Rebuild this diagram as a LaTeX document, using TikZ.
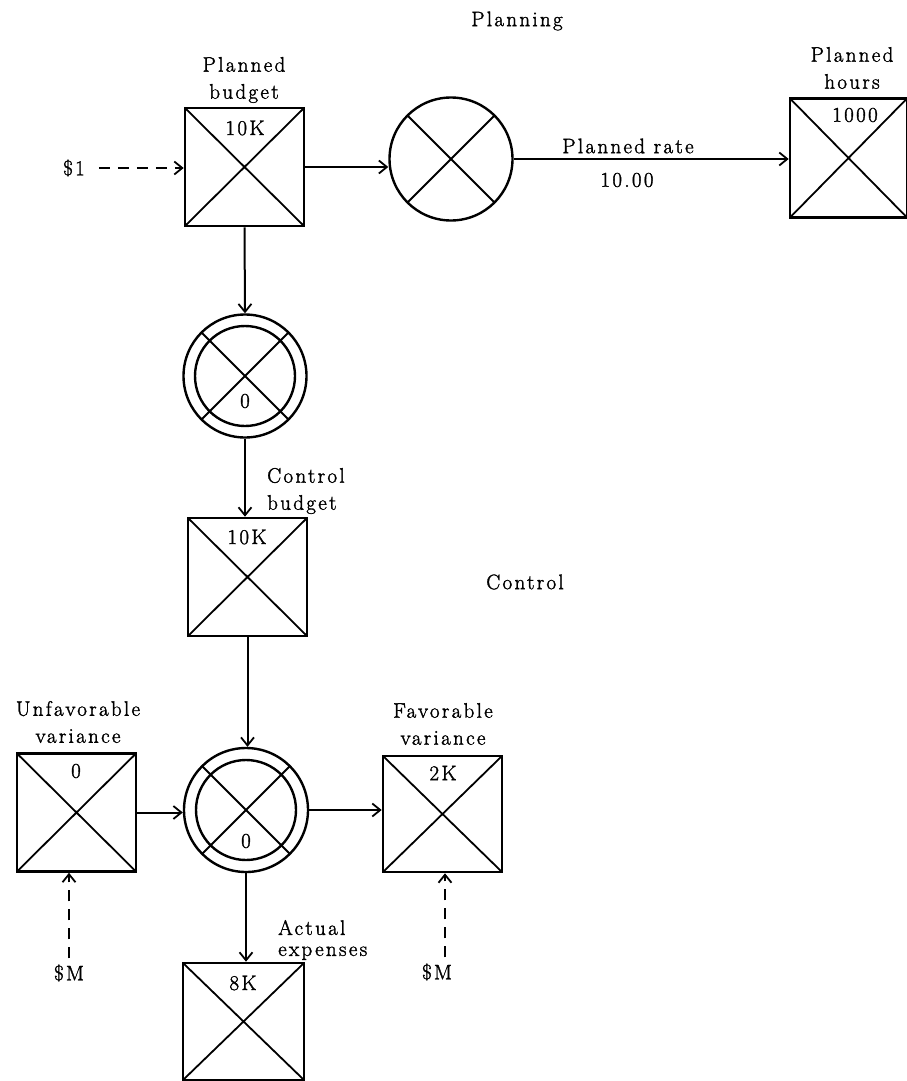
\documentclass[tikz,border=0pt]{standalone}
\usepackage{fontspec}
\setmainfont[LetterSpace=11,FakeBold=1.6]{Latin Modern Roman}
\usetikzlibrary{arrows.meta,calc}
\tikzset{
  xlines/.style={path picture={\draw[line width=1.8pt] (path picture bounding box.north west) -- (path picture bounding box.south east) (path picture bounding box.north east) -- (path picture bounding box.south west);}},
  xbox/.style={draw, line width=2.6pt, minimum width=119pt, minimum height=118pt, inner sep=0pt, xlines},
  xcirc/.style={draw, circle, line width=2.4pt, minimum size=123pt, inner sep=0pt, xlines},
  dcirc/.style={draw, circle, line width=2.4pt, minimum size=123pt, inner sep=0pt,
    path picture={\draw[line width=1.8pt] (path picture bounding box.north west) -- (path picture bounding box.south east) (path picture bounding box.north east) -- (path picture bounding box.south west);
    \draw[line width=2.4pt] (path picture bounding box.center) circle (50pt);}},
  tip/.style={-{Straight Barb[length=8pt,width=13pt,line width=1.8pt]}},
  arr/.style={line width=2pt, tip},
  darr/.style={line width=2pt, tip, dash pattern=on 11pt off 8pt},
  lbl/.style={font=\fontsize{21}{27}\selectfont, align=center, inner sep=0pt},
  val/.style={font=\fontsize{21}{23}\selectfont, inner sep=0pt},
}
\begin{document}
\begin{tikzpicture}[x=1pt,y=-1pt]
\useasboundingbox[fill=white] (0,0) rectangle (907,1081);

% shapes
\node[xbox] (pb) at (244.5,167) {};
\node[xcirc] (c1) at (451,159) {};
\node[xbox, minimum width=117pt, minimum height=119pt] (ph) at (848.5,158) {};
\node[dcirc] (c2) at (245,376) {};
\node[xbox] (cb) at (247.5,577) {};
\node[dcirc, minimum size=124pt] (c3) at (246,810) {};
\node[xbox] (uv) at (76.5,812.5) {};
\node[xbox, minimum height=116pt] (fv) at (442.5,814) {};
\node[xbox, minimum width=121pt, minimum height=117pt] (ae) at (243.5,1021.5) {};

% values
\node[val] (vpb) at (245,128) {10K};
\node[val] (vph) at (855,115) {1000};
\node[val] (vc2) at (245,401) {0};
\node[val] (vcb) at (247,537) {10K};
\node[val] (vuv) at (76,771) {0};
\node[val] (vfv) at (443,773) {2K};
\node[val] (vc3) at (246,841) {0};
\node[val] (vae) at (243,983) {8K};

% labels
\node[lbl] (planning) at (517,21) {Planning};
\node[lbl] (lpb) at (244,80) {Planned\\budget};
\node[lbl] (lph) at (852,68) {Planned\\hours};
\node[lbl] (rate) at (628,146) {Planned rate};
\node[lbl] (rateval) at (627,180) {10.00};
\node[lbl, anchor=west, align=left] (lcb) at (267,491) {Control\\budget};
\node[lbl] (control) at (525,582) {Control};
\node[lbl] (luv) at (78,722) {Unfavorable\\variance};
\node[lbl] (lfv) at (443,724) {Favorable\\variance};
\node[lbl, anchor=west, align=left, font=\fontsize{21}{21}\selectfont] (lae) at (278,940) {Actual\\expenses};
\node[lbl] (d1) at (74,168) {\$1};
\node[lbl] (m1) at (69,973) {\$M};
\node[lbl] (m2) at (437,972) {\$M};

% connectors
\draw[darr, shorten <=14pt] (d1.east) -- (d1.east -| pb.west);
\draw[arr] (pb.east) -- (pb.east -| c1.west);
\draw[arr] (c1.east) -- (c1.east -| ph.west);
\draw[arr] (pb.south) -- (c2.north);
\draw[arr] (c2.south) -- (c2.south |- cb.north);
\draw[arr] (cb.south) -- (cb.south |- c3.north);
\draw[arr] (uv.east) -- (uv.east -| c3.west);
\draw[arr] (c3.east) -- (c3.east -| fv.west);
\draw[arr] (c3.south) -- (c3.south |- ae.north);
\draw[darr, shorten <=6pt] (m1.north) -- (m1.north |- uv.south);
\draw[darr, shorten <=6pt] ([xshift=8pt]m2.north) -- ([xshift=8pt]m2.north |- fv.south);
\end{tikzpicture}
\end{document}
